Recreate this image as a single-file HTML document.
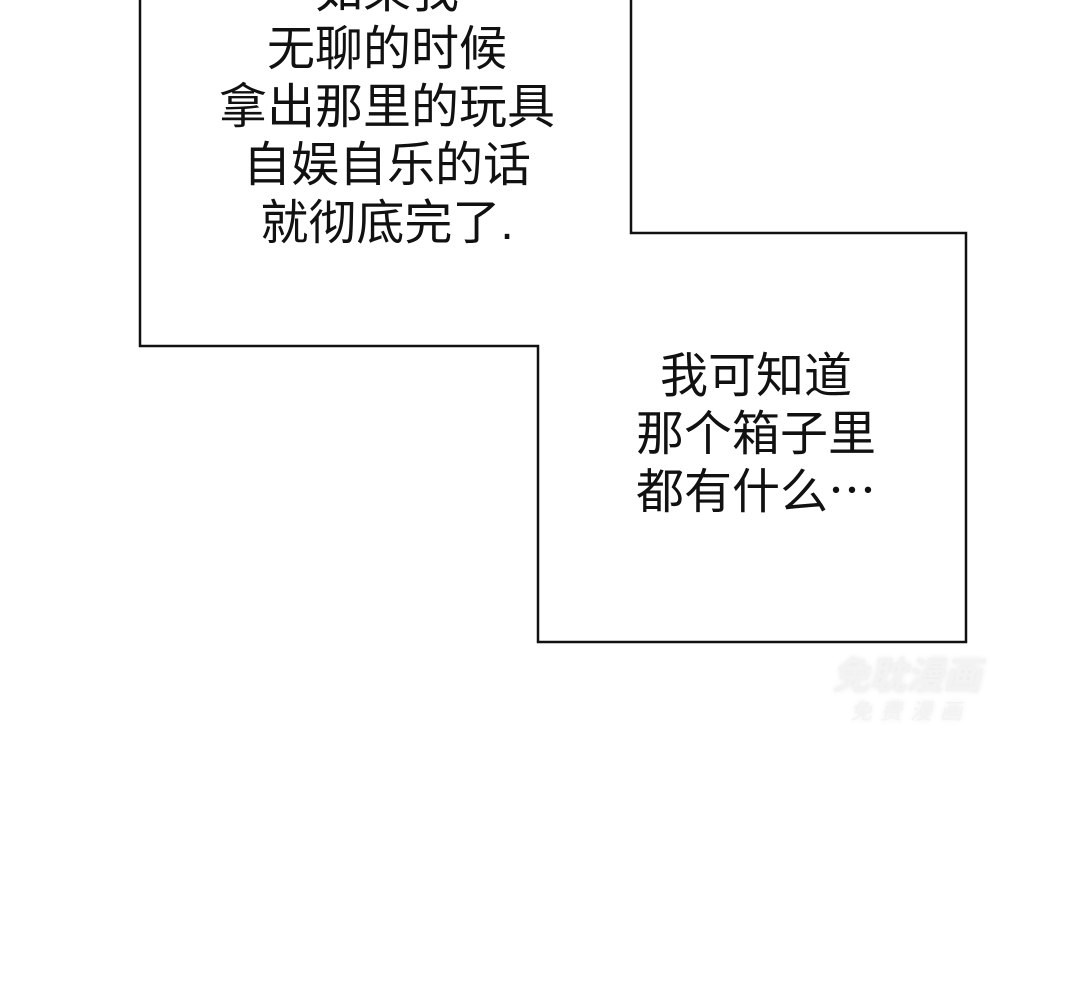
<!DOCTYPE html>
<html><head><meta charset="utf-8"><style>
html,body{margin:0;padding:0;width:1080px;height:997px;background:#fff;overflow:hidden;position:relative}
.t{position:absolute;font-family:"Liberation Sans","Noto Sans CJK SC",sans-serif;font-size:48px;line-height:58px;color:#111;text-align:center;white-space:nowrap}
.wm{position:absolute;font-family:"Noto Sans CJK SC",sans-serif;color:#f3f3f3;font-style:italic;font-weight:bold;text-shadow:0 0 6px #e8e8e8}
</style></head><body>
<svg width="1080" height="997" style="position:absolute;left:0;top:0">
<polyline points="140,-5 140,346 538,346 538,642 966,642 966,233 631,233 631,-5" fill="none" stroke="#111" stroke-width="2.5"/>
</svg>
<div class="t" style="left:187px;width:400px;top:-37px">如果我<br>无聊的时候<br>拿出那里的玩具<br>自娱自乐的话<br>就彻底完了.</div>
<div class="t" style="left:556px;width:400px;top:348px">我可知道<br>那个箱子里<br>都有什么⋯</div>
<div class="wm" style="left:832px;top:645px;font-size:38px;letter-spacing:-1px">免耽漫画</div>
<div class="wm" style="left:850px;top:694px;font-size:22px;letter-spacing:8px;font-weight:normal">免费漫画</div>
</body></html>
